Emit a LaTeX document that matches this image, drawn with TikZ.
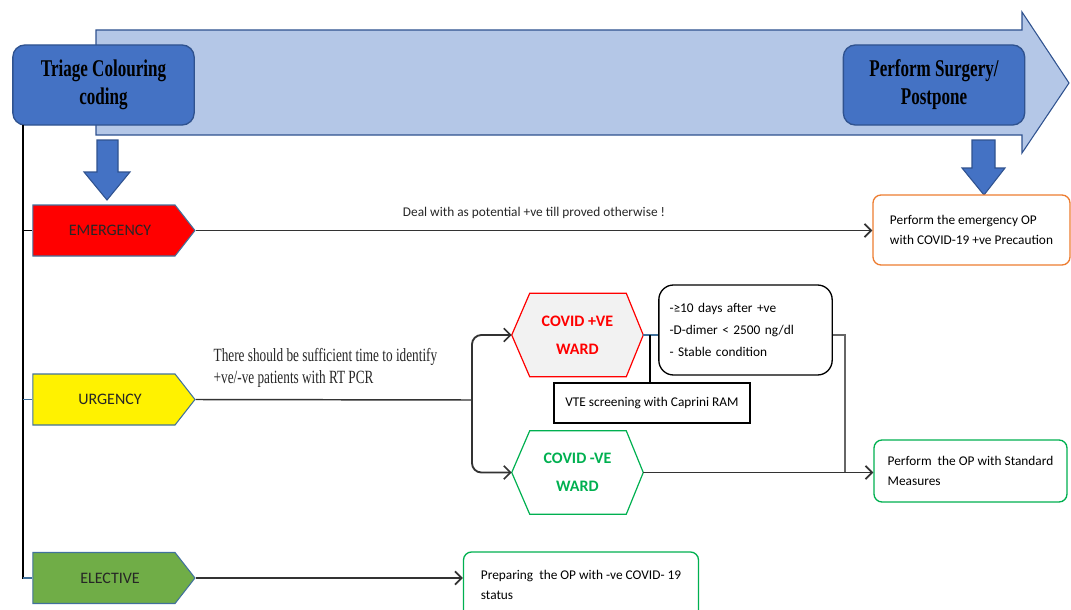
\documentclass[tikz,border=0pt]{standalone}
\usepackage{fontspec}
\setmainfont{Carlito}
\newfontfamily\tnr[FakeStretch=0.71]{Liberation Serif}
\usetikzlibrary{shapes.symbols,arrows.meta,calc}
\definecolor{bigarrow}{HTML}{B4C7E7}
\definecolor{darkblue}{HTML}{2F528F}
\definecolor{midblue}{HTML}{4472C4}
\definecolor{pentborder}{HTML}{41719C}
\definecolor{egreen}{HTML}{70AD47}
\definecolor{cgreen}{HTML}{00B050}
\definecolor{orangeb}{HTML}{ED7D31}
\definecolor{lightgray}{HTML}{F2F2F2}
\tikzset{
  bluebox/.style={draw=darkblue, line width=1pt, fill=midblue, rounded corners=9pt,
    minimum width=136pt, minimum height=60pt, align=center, inner sep=2pt,
    font=\tnr\bfseries\fontsize{18}{21}\selectfont},
  pent/.style={shape=signal, signal to=east, signal pointer angle=104, draw=pentborder,
    line width=0.8pt, minimum width=121.5pt, minimum height=38.25pt, inner sep=0pt,
    font=\fontsize{12}{13}\selectfont, text=black!85},
  conn/.style={line width=1.4pt, draw=black!80},
  arr/.style={conn, -{Straight Barb[length=5pt,width=10pt,line width=1.3pt]}},
  resbox/.style={draw=#1, line width=1pt, rounded corners=6pt, fill=white, align=left,
    font=\fontsize{10}{15}\selectfont, inner xsep=4pt},
  hexlabel/.style={minimum width=98.25pt, minimum height=62.25pt, inner sep=0pt, align=center,
    font=\bfseries\fontsize{12}{21}\selectfont},
  blockarrow/.style={draw=darkblue, line width=0.8pt, fill=midblue},
}
\begin{document}
\begin{tikzpicture}[x=0.75pt,y=-0.75pt]
\useasboundingbox (0,0) rectangle (1071,610);
% big background arrow
\draw[draw=darkblue, line width=0.8pt, fill=bigarrow]
  (96,30) -- (1022,30) -- (1022,12) -- (1069,83) -- (1022,153) -- (1022,135) -- (96,135) -- cycle;
% header boxes
\node[bluebox] (triage) at (103.5,85) {Triage Colouring\\coding};
\node[bluebox] (perform) at (934,85) {Perform Surgery/\\Postpone};
% down block arrows
\draw[blockarrow] (97,140) -- (118,140) -- (118,172) -- (130,172) -- (107,200) -- (84,172) -- (97,172) -- cycle;
\draw[blockarrow] (972,140) -- (995,140) -- (995,168) -- (1005,168) -- (984,195) -- (962,168) -- (972,168) -- cycle;
% pentagons
\node[pent, fill=red] (emer) at (104,230.5) {\hspace*{9pt}EMERGENCY};
\node[pent, fill=yellow] (urg) at (104,399.5) {\hspace*{9pt}URGENCY};
\node[pent, fill=egreen] (elec) at (104,578) {\hspace*{9pt}ELECTIVE};
% left spine
\coordinate (v0) at (23,125);
\draw[black, line width=0.9pt] (v0) |- (elec.west);
\draw[black, line width=0.9pt] (v0 |- emer.west) -- (emer.west);
\draw[draw=pentborder, line width=0.9pt] (v0 |- urg.west) -- (urg.west);
\draw[draw=pentborder, line width=0.9pt] (v0 |- elec.west) -- (elec.west);
% result boxes
\node[resbox=orangeb, minimum width=147.75pt, minimum height=52.5pt] (emres) at (971.5,230) {Perform the emergency OP\\with COVID-19 +ve Precaution};
\node[resbox=cgreen, minimum width=144.75pt, minimum height=46.5pt] (stdb) at (970.5,471) {Perform\ \ the OP with Standard\\Measures};
\node[resbox=cgreen, minimum width=176.25pt, minimum height=49.5pt] (prep) at (581,585) {Preparing\ \ the OP with -ve COVID- 19\\status};
% emergency connector
\draw[arr] (emer.east) -- (emer.east -| emres.west) node[midway, above=5pt, font=\fontsize{10}{12}\selectfont, text=black!85] (deal) {Deal with as potential +ve till proved otherwise !};
% urgency text
\node[anchor=west, align=left, font=\tnr\fontsize{14}{16}\selectfont, text=black!85] (utext) at (209,368) {There should be sufficient time to identify\\+ve/-ve patients with RT PCR};
% hexagons
\node[hexlabel, text=red] (covp) at (577.5,335) {COVID +VE\\WARD};
\fill[lightgray, draw=red, line width=0.9pt] (covp.west) -- ($(covp.north west)+(18,0)$) -- ($(covp.north east)+(-17,0)$) -- (covp.east) -- ($(covp.south east)+(-17,0)$) -- ($(covp.south west)+(18,0)$) -- cycle;
\node[hexlabel, text=red] at (covp) {COVID +VE\\WARD};
\node[hexlabel, text=cgreen] (covn) at (577.5,472.5) {COVID -VE\\WARD};
\draw[cgreen, line width=0.9pt] (covn.west) -- ($(covn.north west)+(18,0)$) -- ($(covn.north east)+(-17,0)$) -- (covn.east) -- ($(covn.south east)+(-17,0)$) -- ($(covn.south west)+(18,0)$) -- cycle;
% urgency connectors
\coordinate (br) at (472,400);
\draw[conn, line width=1.1pt] (urg.east) -- (br);
\draw[arr, rounded corners=7pt] (br) |- (covp.west);
\draw[arr, rounded corners=7pt] (br) |- (covn.west);
% criteria box
\node[draw=black, line width=1pt, rounded corners=11pt, minimum width=129.75pt, minimum height=67.5pt,
  text width=114pt, align=left, inner xsep=8pt, font=\fontsize{10}{16.5}\selectfont] (crit) at (745.5,330)
  {-≥10 days after +ve\\-D-dimer < 2500 ng/dl\\- Stable condition};
\node[draw=black, line width=0.9pt, minimum width=147pt, minimum height=30pt, font=\fontsize{10}{12}\selectfont] (vte) at (652,403) {VTE screening with Caprini RAM};
\draw[pentborder, line width=0.8pt] (covp.east) -- (covp.east -| crit.west);
\coordinate (j) at (650,335);
\draw[black, line width=0.8pt] (j) -- (j |- vte.north);
% to standard box
\coordinate (m) at (845,472);
\draw[black!60, line width=0.9pt] (crit.east |- 0,335) -| (m);
\draw[arr] (covn.east) -- (covn.east -| stdb.west);
% elective connector
\draw[arr] (elec.east) -- (elec.east -| prep.west);
\end{tikzpicture}
\end{document}
